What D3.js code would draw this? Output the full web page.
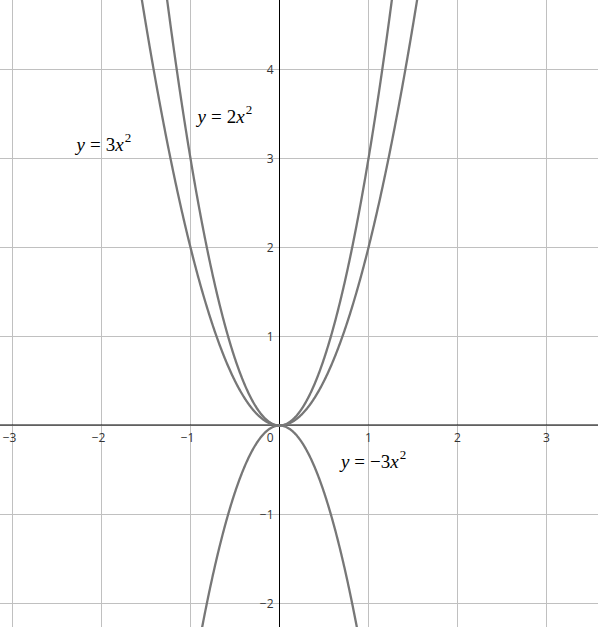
<!DOCTYPE html>
<html><head><meta charset="utf-8">
<script src="https://cdn.jsdelivr.net/npm/d3@7/dist/d3.min.js"></script>
<style>html,body{margin:0;padding:0;background:#fff;overflow:hidden}</style>
</head><body>
<script>
// Data
const coefficients = [3, 2, -3];          // y = a * x^2
const curveLabels = ["3", "2", "−3"];
const labelAnchors = [[-2.28, 3.08], [-0.92, 3.4], [0.69, -0.48]]; // in data units
const xTicks = [-3, -2, -1, 1, 2, 3];
const yTicks = [-2, -1, 1, 2, 3, 4];

const W = 598, H = 627;
const unit = 89, ox = 279.5, oy = 425.5;
const x = d3.scaleLinear().domain([(0 - ox) / unit, (W - ox) / unit]).range([0, W]);
const y = d3.scaleLinear().domain([-(H - oy) / unit, oy / unit]).range([H, 0]);

const svg = d3.select("body").append("svg").attr("width", W).attr("height", H);

// grid
const gx = d3.range(Math.ceil(x.domain()[0]), Math.floor(x.domain()[1]) + 1);
const gy = d3.range(Math.ceil(y.domain()[0]), Math.floor(y.domain()[1]) + 1);
svg.append("g").selectAll("line").data(gx).join("line")
  .attr("x1", d => x(d)).attr("x2", d => x(d)).attr("y1", 0).attr("y2", H)
  .attr("stroke", "#c0c0c0").attr("stroke-width", 1);
svg.append("g").selectAll("line").data(gy).join("line")
  .attr("y1", d => y(d)).attr("y2", d => y(d)).attr("x1", 0).attr("x2", W)
  .attr("stroke", "#c0c0c0").attr("stroke-width", 1);

// axes
svg.append("line").attr("x1", 0).attr("x2", W).attr("y1", y(0) - 0.5).attr("y2", y(0) - 0.5)
  .attr("stroke", "#000").attr("stroke-width", 1);
svg.append("line").attr("x1", x(0)).attr("x2", x(0)).attr("y1", 0).attr("y2", H)
  .attr("stroke", "#000").attr("stroke-width", 1);

const fmt = d => (d < 0 ? "−" + Math.abs(d) : "" + d);
const tickFont = "'Open Sans', 'DejaVu Sans', sans-serif";
// x tick labels
svg.append("g").selectAll("text").data(xTicks).join("text")
  .attr("x", d => x(d) + (d < 0 ? -3 : 0)).attr("y", y(0) + 16)
  .attr("text-anchor", "middle").attr("font-family", tickFont).attr("font-size", 12)
  .attr("fill", "#333").text(fmt);
// y tick labels
svg.append("g").selectAll("text").data(yTicks).join("text")
  .attr("x", x(0) - 6).attr("y", d => y(d) + 4.5)
  .attr("text-anchor", "end").attr("font-family", tickFont).attr("font-size", 12)
  .attr("fill", "#333").text(fmt);
svg.append("text").attr("x", x(0) - 6).attr("y", y(0) + 16).attr("text-anchor", "end")
  .attr("font-family", tickFont).attr("font-size", 12).attr("fill", "#333").text("0");

// curves
const xs = d3.range(x.domain()[0], x.domain()[1] + 0.005, 0.005);
const line = d3.line().x(d => x(d[0])).y(d => y(d[1]));
svg.append("g").selectAll("path").data(coefficients).join("path")
  .attr("d", a => line(xs.map(v => [v, a * v * v])))
  .attr("fill", "none").attr("stroke", "#777").attr("stroke-width", 2.3);

// labels
const mathFont = "'Liberation Serif', 'DejaVu Serif', serif";
labelAnchors.forEach((p, i) => {
  const t = svg.append("text").attr("x", x(p[0])).attr("y", y(p[1]))
    .attr("font-family", mathFont).attr("font-size", 19).attr("fill", "#000");
  t.append("tspan").attr("font-style", "italic").text("y");
  t.append("tspan").attr("dx", 5).text("=");
  t.append("tspan").attr("dx", 5).text(curveLabels[i]);
  t.append("tspan").attr("font-style", "italic").text("x");
  t.append("tspan").attr("font-size", 13).attr("dx", 1).attr("dy", -9).text("2");
});
</script>
</body></html>
